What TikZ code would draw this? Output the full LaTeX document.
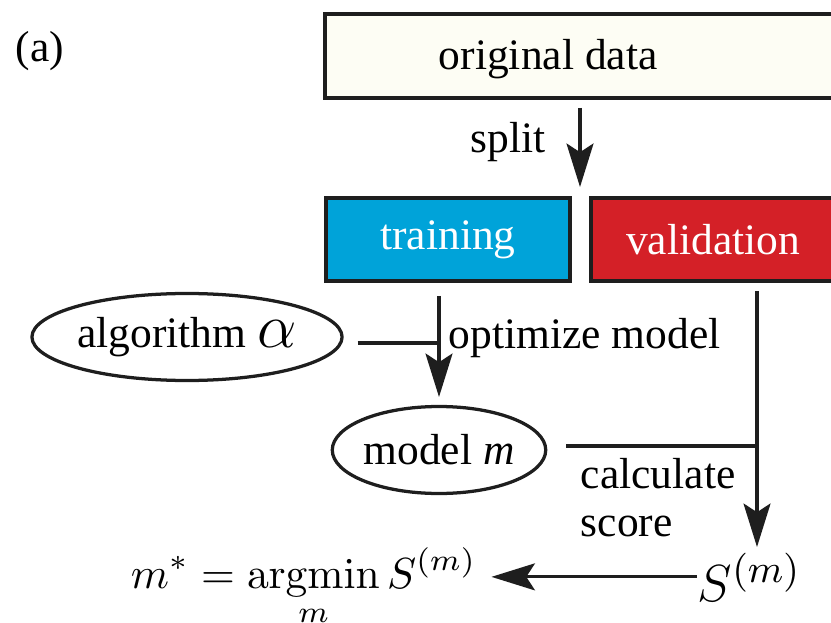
\documentclass[tikz,border=0pt]{standalone}
\usepackage{amsmath}
\usepackage[no-math]{fontspec}
\setmainfont{Liberation Serif}[Ligatures = TeX]
\usetikzlibrary{arrows.meta}
\usetikzlibrary{shapes.geometric}
\newcommand\pxu{0.23pt}
\definecolor{databg}{RGB}{253,253,244}
\definecolor{trainblue}{RGB}{0,163,217}
\definecolor{validred}{RGB}{212,32,39}
\definecolor{edge}{RGB}{30,30,30}
\tikzset{box/.style = {draw = edge, line width = 1pt, rectangle, inner sep = 0, minimum width = 244*\pxu, minimum height = 83*\pxu, text = white}}
\tikzset{oval/.style = {draw = edge, line width = 0.75pt, ellipse, inner sep = 0, minimum height = 87*\pxu}}
\tikzset{txt/.style = {inner sep = 0, anchor = base west}}
\tikzset{ln/.style = {draw = edge, line width = 0.7pt}}
\tikzset{arr/.style = {ln, -{Stealth[length = 10pt, width = 6.2pt, inset = 2pt]}}}

\begin{document}
\begin{tikzpicture}[x = \pxu, y = -\pxu]

      \useasboundingbox (0, 0) rectangle (831, 623);
      \clip (0, 0) rectangle (831, 623);

      \node [txt] (lbl) at (15, 62) {(a)};

      \node [box, fill = databg, minimum width = 540*\pxu, minimum height = 84*\pxu] (data) at (595, 56) {};
      \node [txt] (datatxt) at (438, 70) {original data};

      \node [txt] (split) at (470, 153) {split};
      \coordinate (s0) at (580, 108);
      \coordinate (s1) at (580, 187);

      \node [box, fill = trainblue] (train) at (448, 239.5) {training};
      \node [box, fill = validred] (valid) at (713, 239.5) {validation};

      \node [oval, minimum width = 274*\pxu] (alg) at (187, 337) {algorithm {\fontsize{14.4}{16}\selectfont$\alpha$}};
      \node [txt] (opt) at (448, 348) {optimize model};
      \coordinate (o0) at (439, 296);
      \coordinate (oj) at (439, 343);
      \coordinate (o1) at (439, 397);

      \node [oval, minimum width = 208*\pxu] (model) at (439, 450) {model \textit{m}};
      \node [align = left, anchor = west, inner sep = 0, font = \fontsize{10}{11}\selectfont] (calc) at (580, 498) {calculate\\score};
      \coordinate (v0) at (757, 291);
      \coordinate (vj) at (757, 446);
      \coordinate (v1) at (757, 547);

      \node [txt] (best) at (130, 588) {$\displaystyle m^* = \operatorname*{argmin}_m S^{(m)}$};
      \node [txt, font = \fontsize{12.5}{15}\selectfont] (score) at (697, 601) {$S^{(m)}$};

      \draw [arr] (s0) -- (s1);
      \draw [arr] (o0) -- (o1);
      \draw [ln, shorten <= 14*\pxu] (alg.east |- oj) -- (oj);
      \draw [arr] (v0) -- (v1);
      \draw [ln, shorten <= 19*\pxu] (model.east |- vj) -- (vj);
      \draw [arr, shorten >= 14*\pxu] (score.west) -- (score.west -| best.east);
    \end{tikzpicture}
\end{document}
